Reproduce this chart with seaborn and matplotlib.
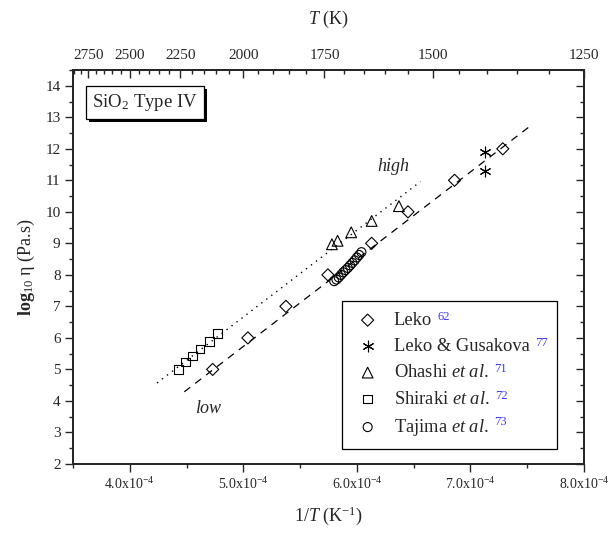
import matplotlib
matplotlib.use("Agg")
import matplotlib.pyplot as plt
import seaborn as sns
from matplotlib.transforms import IdentityTransform
from matplotlib.patches import Rectangle

# ---------------- data ----------------
leko_invT = [4.73e-4, 5.04e-4, 5.375e-4, 5.745e-4, 6.13e-4, 6.45e-4, 6.86e-4, 7.285e-4]
leko_logeta = [5.0, 6.0, 7.0, 8.0, 9.0, 10.0, 11.0, 12.0]

gusakova_invT = [7.13e-4, 7.13e-4]
gusakova_logeta = [11.9, 11.3]

ohashi_invT = [5.78e-4, 5.83e-4, 5.95e-4, 6.13e-4, 6.37e-4]
ohashi_logeta = [8.97, 9.08, 9.35, 9.71, 10.18]

shiraki_invT = [4.43e-4, 4.49e-4, 4.55e-4, 4.62e-4, 4.70e-4, 4.77e-4]
shiraki_logeta = [5.0, 5.23, 5.42, 5.65, 5.88, 6.14]

tajima_invT = [5.80e-4, 5.82e-4, 5.84e-4, 5.86e-4, 5.88e-4, 5.90e-4, 5.92e-4,
               5.94e-4, 5.96e-4, 5.98e-4, 6.00e-4, 6.02e-4, 6.04e-4]
tajima_logeta = [7.80, 7.85, 7.92, 8.00, 8.08, 8.15, 8.22, 8.30, 8.38, 8.46,
                 8.55, 8.63, 8.72]

low_fit_invT = [4.48e-4, 7.54e-4]
low_fit_logeta = [4.29, 12.76]
high_fit_invT = [4.24e-4, 6.56e-4]
high_fit_logeta = [4.57, 10.96]

legend_labels = ["Leko", "Leko & Gusakova", r"Ohashi $\mathit{et\ al}$.",
                 r"Shiraki $\mathit{et\ al}$.", r"Tajima $\mathit{et\ al}$."]
legend_refs = ["62", "77", "71", "72", "73"]

x_major = [4.0e-4, 5.0e-4, 6.0e-4, 7.0e-4, 8.0e-4]
x_major_labels = [r"4.0x10$^{-4}$", r"5.0x10$^{-4}$", r"6.0x10$^{-4}$",
                  r"7.0x10$^{-4}$", r"8.0x10$^{-4}$"]
x_minor = [3.5e-4, 4.5e-4, 5.5e-4, 6.5e-4, 7.5e-4]
y_major = [2, 3, 4, 5, 6, 7, 8, 9, 10, 11, 12, 13, 14]
y_minor = [2.5, 3.5, 4.5, 5.5, 6.5, 7.5, 8.5, 9.5, 10.5, 11.5, 12.5, 13.5, 14.5]
top_T_major = [2750, 2500, 2250, 2000, 1750, 1500, 1250]
top_T_minor = [2850, 2800, 2700, 2650, 2600, 2550, 2450, 2400, 2350, 2300,
               2200, 2150, 2100, 2050, 1950, 1900, 1850, 1800, 1700, 1650,
               1600, 1550, 1450, 1400, 1350, 1300]

# ---------------- style ----------------
sns.set_style("ticks")
plt.rcParams["font.family"] = ["Liberation Serif", "DejaVu Serif"]
plt.rcParams["mathtext.fontset"] = "custom"
plt.rcParams["mathtext.rm"] = "Liberation Serif"
plt.rcParams["mathtext.it"] = "Liberation Serif:italic"
plt.rcParams["mathtext.bf"] = "Liberation Serif:bold"
plt.rcParams["axes.linewidth"] = 1.0

fig = plt.figure(figsize=(6.11, 5.33), dpi=100)
ax = fig.add_axes([0.1195, 0.1295, 0.8363, 0.7392])

# top axis (temperature) and right axis ticks
ax2 = ax.twiny()
ax3 = ax.twinx()
ax.set_zorder(5)
ax.patch.set_visible(False)

# fit lines
sns.lineplot(x=low_fit_invT, y=low_fit_logeta, ax=ax, color="black", lw=0.9,
             linestyle=(0, (6, 5)), sort=False, errorbar=None)
sns.lineplot(x=high_fit_invT, y=high_fit_logeta, ax=ax, color="black", lw=1.0,
             linestyle=(0, (1, 3.5)), sort=False, errorbar=None)

mk = dict(facecolor="none", edgecolor="black", linewidth=0.8, zorder=3)
sns.scatterplot(x=leko_invT, y=leko_logeta, marker="D", s=38, ax=ax,
                label=legend_labels[0], **mk)
sns.scatterplot(x=gusakova_invT, y=gusakova_logeta, marker=(6, 2, 0), s=60,
                color="black", linewidth=0.8, ax=ax, label=legend_labels[1],
                zorder=3)
sns.scatterplot(x=ohashi_invT, y=ohashi_logeta, marker="^", s=60, ax=ax,
                label=legend_labels[2], **mk)
sns.scatterplot(x=shiraki_invT, y=shiraki_logeta, marker="s", s=38, ax=ax,
                label=legend_labels[3], **mk)
sns.scatterplot(x=tajima_invT, y=tajima_logeta, marker="o", s=42, ax=ax,
                label=legend_labels[4], **mk)

ax.set_xlim(3.5e-4, 8.0e-4)
ax.set_ylim(2, 14.5)
ax.set_xticks(x_major)
ax.set_xticklabels(x_major_labels, fontsize=10)
ax.set_xticks(x_minor, minor=True)
ax.set_yticks(y_major)
ax.set_yticklabels([str(v) for v in y_major], fontsize=11)
ax.set_yticks(y_minor, minor=True)
ax.tick_params(axis="both", which="major", direction="out", length=6, width=1.0,
               top=False, right=False, pad=3)
ax.tick_params(axis="both", which="minor", direction="out", length=3, width=1.0,
               top=False, right=False)
ax.set_xlabel(r"1/$T$ (K$^{-1}$)", fontsize=13, labelpad=9)
ax.set_ylabel(r"$\mathbf{log}_{10}$ η (Pa.s)", fontsize=13, labelpad=6)
for a in (ax, ax2, ax3):
    for s in a.spines.values():
        s.set_linewidth(1.2)

ax2.set_xlim(ax.get_xlim())
ax2.set_xticks([1.0 / t for t in top_T_major])
ax2.set_xticklabels([str(t) for t in top_T_major], fontsize=11)
ax2.set_xticks([1.0 / t for t in top_T_minor], minor=True)
ax2.tick_params(axis="x", which="major", direction="in", length=6, width=1.0, pad=6)
ax2.tick_params(axis="x", which="minor", direction="in", length=3, width=1.0)
ax2.set_xlabel(r"$T$ (K)", fontsize=13, labelpad=18)

ax3.set_ylim(ax.get_ylim())
ax3.set_yticks(y_major)
ax3.set_yticks(y_minor, minor=True)
ax3.set_yticklabels([])
ax3.tick_params(axis="y", which="major", direction="in", length=6, width=1.0)
ax3.tick_params(axis="y", which="minor", direction="in", length=3, width=1.0)
ax3.grid(False)
ax2.grid(False)

# texts
ax.text(6.32e-4, 11.45, "high", fontsize=13, style="italic", ha="center", va="center")
ax.text(4.69e-4, 3.77, "low", fontsize=13, style="italic", ha="center", va="center")
box_txt = ax.text(0.038, 0.945, r"SiO$_2$ Type IV", transform=ax.transAxes,
                  fontsize=13.5, ha="left", va="top", zorder=6,
                  bbox=dict(boxstyle="square,pad=0.32", fc="white", ec="black", lw=0.9))

# legend
h_all, l_all = ax.get_legend_handles_labels()
lookup = dict(zip(l_all, h_all))
handles = [lookup[l] for l in legend_labels]
leg = ax.legend(handles=handles, labels=legend_labels, loc="lower left",
                bbox_to_anchor=(0.526, 0.038, 0.421, 0.3), mode="expand",
                borderaxespad=0, fontsize=13.3,
                frameon=True, fancybox=False, framealpha=1, edgecolor="black",
                labelspacing=0.5, handletextpad=0.6, borderpad=0.6,
                scatterpoints=1, handlelength=1.6)
leg.get_frame().set_linewidth(0.9)
leg.set_zorder(10)

fig.canvas.draw()
renderer = fig.canvas.get_renderer()

# blue reference superscripts
for t, ref in zip(leg.get_texts(), legend_refs):
    bb = t.get_window_extent(renderer)
    ax.text(bb.x1 + 6, bb.y1 + 1, ref, transform=IdentityTransform(),
            fontsize=9, color="#3b3bff", ha="left", va="top", zorder=20)

# shadow of the label box
bp = box_txt.get_bbox_patch().get_window_extent(renderer)
shadow = Rectangle((bp.x0 + 3, bp.y0 - 3), bp.width, bp.height,
                   transform=IdentityTransform(), facecolor="black",
                   edgecolor="none", zorder=5.5)
ax.add_artist(shadow)

fig.savefig("out.png", dpi=100, facecolor="white")
